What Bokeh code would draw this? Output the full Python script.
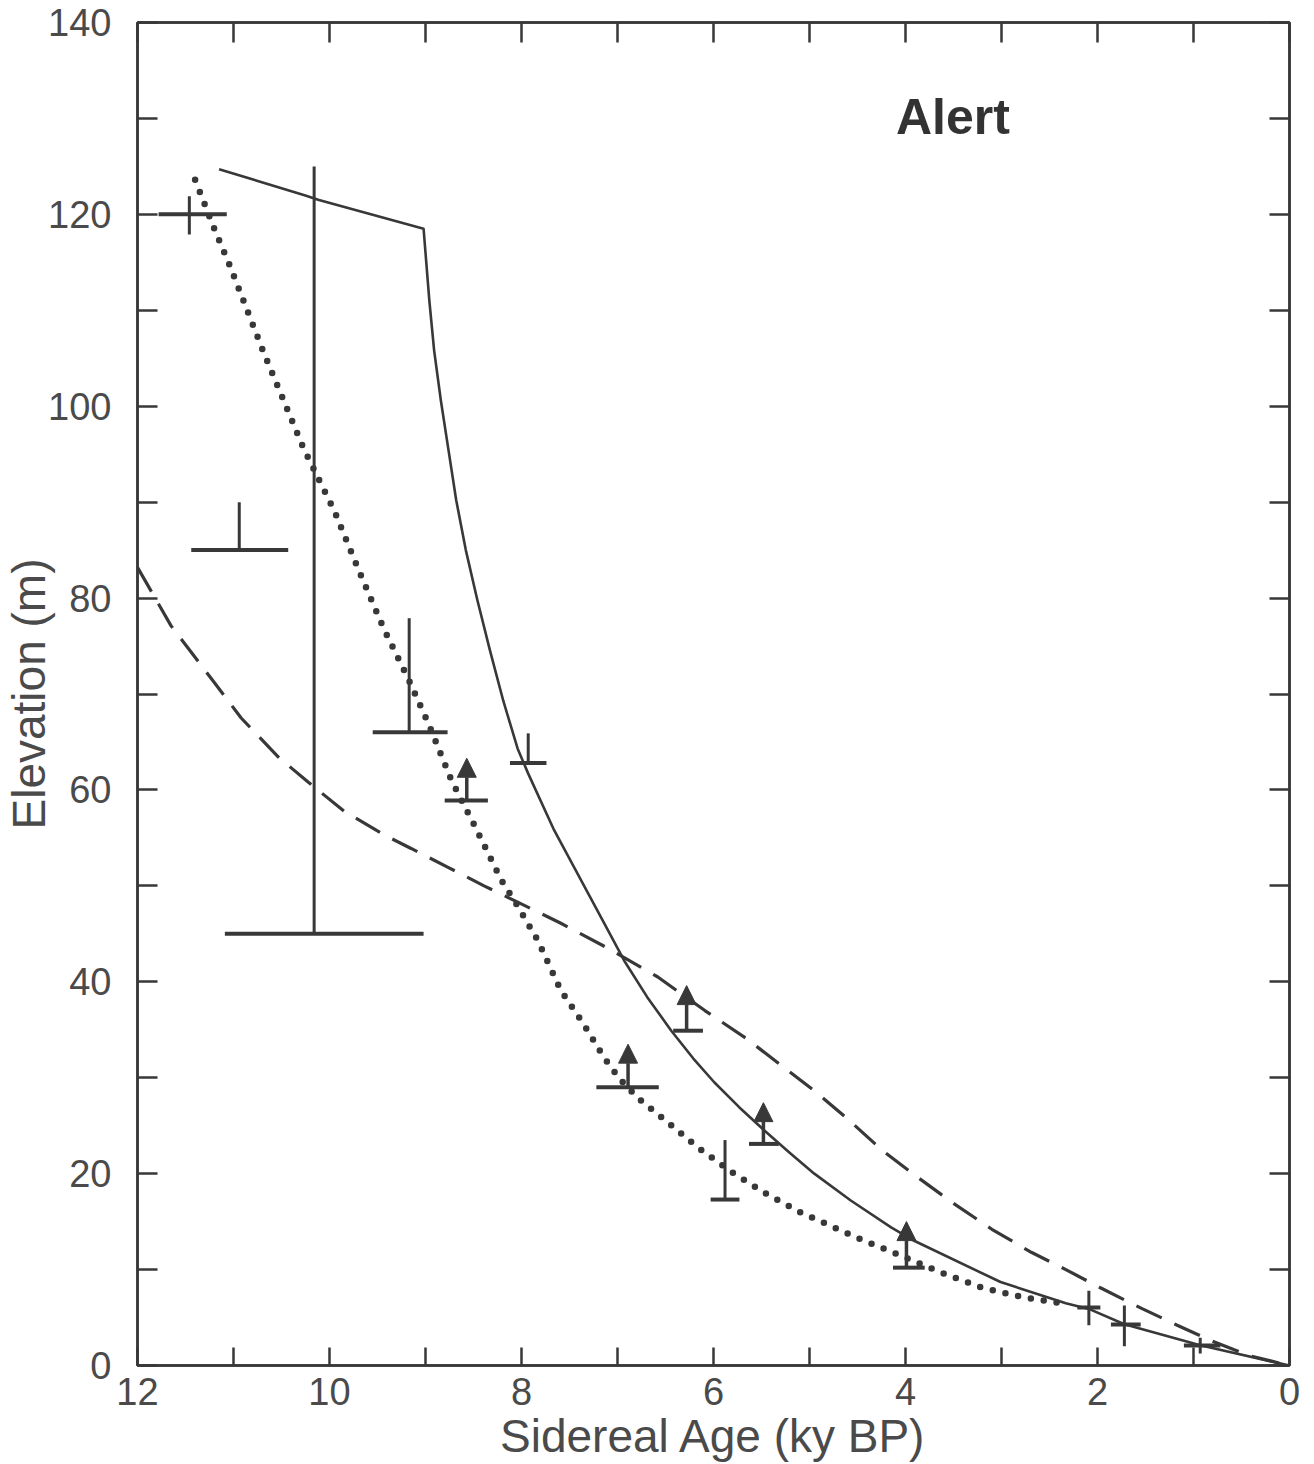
from bokeh.plotting import figure
from bokeh.models import Range1d, FixedTicker, LinearAxis, Label, Arrow, NormalHead, ColumnDataSource
from bokeh.embed import file_html
from bokeh.resources import INLINE

# ---------------- data ----------------
solid_age = [11.15, 10.26, 10.11, 9.02, 8.96, 8.91, 8.84, 8.76, 8.68, 8.58, 8.46, 8.33, 8.19,
             8.04, 7.93, 7.66, 7.17, 6.93, 6.69, 6.44, 6.21, 5.99, 5.73, 5.47, 5.21, 4.95,
             4.57, 4.15, 3.91, 3.01, 2.33, 2.09, 1.72, 0.93, 0.0]
solid_elev = [124.7, 122.0, 121.5, 118.5, 111.0, 105.8, 100.6, 95.4, 90.2, 85.0, 79.8, 74.6, 69.3,
              64.3, 61.7, 55.8, 46.7, 42.2, 38.4, 34.9, 32.0, 29.5, 26.9, 24.5, 22.2, 20.0,
              17.2, 14.4, 13.0, 8.7, 6.5, 5.9, 4.3, 2.1, 0.0]

dotted_age = [11.40, 11.20, 11.04, 10.69, 10.27, 9.95, 9.70, 9.43, 9.18, 8.96, 8.73, 8.49, 8.21,
              8.04, 7.83, 7.59, 7.36, 7.14, 6.98, 6.79, 6.47, 6.16, 5.80, 5.45, 5.10, 4.50,
              4.06, 3.63, 3.20, 2.77, 2.38]
dotted_elev = [123.6, 118.5, 114.7, 105.7, 95.6, 89.1, 83.0, 76.7, 71.6, 66.7, 61.0, 56.3, 50.6,
               47.9, 44.3, 39.1, 35.7, 32.1, 29.9, 27.9, 25.3, 22.7, 20.1, 17.9, 16.0, 13.3,
               11.5, 9.7, 8.1, 7.1, 6.5]

dashed_age = [12.0, 11.65, 11.20, 10.92, 10.53, 10.22, 9.85, 9.43, 9.15, 8.76, 8.39, 8.04,
              7.59, 7.10, 6.58, 6.09, 5.66, 5.27, 4.92, 4.58, 4.24, 3.87, 3.50, 3.10, 2.69,
              2.33, 1.97, 1.53, 1.17, 0.82, 0.41, 0.0]
dashed_elev = [83.2, 77.1, 71.2, 67.5, 63.4, 60.8, 57.8, 55.3, 53.9, 51.9, 50.0, 48.3,
               46.1, 43.5, 40.5, 37.0, 34.1, 31.1, 28.4, 25.5, 22.4, 19.6, 16.9, 14.2, 11.8,
               10.0, 8.1, 5.9, 4.2, 2.6, 1.0, 0.0]

# error-bar style samples: horizontal bar (age range at an elevation) + vertical stem
bar_left = [11.78, 11.44, 11.09, 9.55, 8.12, 6.03, 2.21, 1.86, 1.10]
bar_right = [11.07, 10.43, 9.02, 8.77, 7.74, 5.73, 1.97, 1.55, 0.72]
bar_elev = [120.0, 85.0, 45.0, 66.0, 62.8, 17.3, 6.05, 4.27, 2.08]
stem_age = [11.46, 10.94, 10.16, 9.17, 7.93, 5.88, 2.09, 1.72, 0.93]
stem_low = [117.9, 85.0, 45.0, 66.0, 62.8, 17.3, 4.2, 2.0, 1.25]
stem_high = [121.9, 90.0, 125.0, 77.9, 65.9, 23.5, 7.8, 6.25, 2.9]

# minimum-elevation samples (bar + upward arrow)
min_left = [8.80, 6.42, 7.22, 5.63, 4.13]
min_right = [8.35, 6.11, 6.57, 5.32, 3.80]
min_age = [8.57, 6.28, 6.89, 5.48, 3.99]
min_elev = [58.9, 34.9, 29.0, 23.1, 10.2]
min_tip = [63.3, 39.6, 33.5, 27.4, 15.0]

x_ticks = [0, 2, 4, 6, 8, 10, 12]
x_minor = [1, 3, 5, 7, 9, 11]
y_ticks = [0, 20, 40, 60, 80, 100, 120, 140]
y_minor = [10, 30, 50, 70, 90, 110, 130]

# ---------------- figure ----------------
INK = "#383838"
TXT = "#4a4a4a"
FONT = "Liberation Sans"

p = figure(width=1314, height=1464, x_range=Range1d(12, 0), y_range=Range1d(0, 140),
           output_backend="svg", toolbar_location=None,
           min_border_left=136, min_border_right=25, min_border_top=22, min_border_bottom=99,
           x_axis_label="Sidereal Age (ky BP)", y_axis_label="Elevation (m)")
p.background_fill_color = "white"
p.border_fill_color = "white"
p.xgrid.visible = False
p.ygrid.visible = False
p.outline_line_color = INK
p.outline_line_width = 2.5


def style_axis(ax, ticks, minor, tick_len):
    ax.ticker = FixedTicker(ticks=ticks, minor_ticks=minor)
    ax.axis_line_color = INK
    ax.axis_line_width = 2.5
    ax.major_tick_line_color = INK
    ax.major_tick_line_width = 2.5
    ax.minor_tick_line_color = INK
    ax.minor_tick_line_width = 2.5
    ax.major_tick_in = tick_len
    ax.major_tick_out = 0
    ax.minor_tick_in = tick_len
    ax.minor_tick_out = 0
    ax.major_label_text_font = FONT
    ax.major_label_text_font_size = "38px"
    ax.major_label_text_color = TXT
    ax.axis_label_text_font = FONT
    ax.axis_label_text_font_size = "46px"
    ax.axis_label_text_font_style = "normal"
    ax.axis_label_text_color = TXT


xa = p.xaxis[0]
style_axis(xa, x_ticks, x_minor, 18)
xa.major_label_standoff = 12
xa.axis_label_standoff = 2

ya = p.yaxis[0]
style_axis(ya, y_ticks, y_minor, 20)
ya.major_label_standoff = 26
ya.axis_label_standoff = -10

top = LinearAxis()
style_axis(top, list(range(0, 13)), [], 20)
top.major_label_text_font_size = "0px"
top.major_label_text_color = None
top.major_label_standoff = 0
p.add_layout(top, "above")

right = LinearAxis()
style_axis(right, list(range(0, 141, 10)), [], 20)
right.major_label_text_font_size = "0px"
right.major_label_text_color = None
right.major_label_standoff = 0
p.add_layout(right, "right")

# ---------------- curves ----------------
p.line(dashed_age, dashed_elev, line_color=INK, line_width=3.2, line_dash="28 14")
p.line(solid_age, solid_elev, line_color=INK, line_width=2.6, line_join="round")
p.line(dotted_age, dotted_elev, line_color=INK, line_width=6.5, line_dash="0 13", line_cap="round")

# ---------------- samples ----------------
bars = ColumnDataSource(dict(x0=bar_left, x1=bar_right, y=bar_elev))
p.segment(x0="x0", y0="y", x1="x1", y1="y", source=bars, line_color=INK, line_width=4)
stems = ColumnDataSource(dict(x=stem_age, y0=stem_low, y1=stem_high))
p.segment(x0="x", y0="y0", x1="x", y1="y1", source=stems, line_color=INK, line_width=3)

mins = ColumnDataSource(dict(x0=min_left, x1=min_right, x=min_age, y=min_elev, tip=min_tip))
p.segment(x0="x0", y0="y", x1="x1", y1="y", source=mins, line_color=INK, line_width=4)
p.add_layout(Arrow(end=NormalHead(size=19, fill_color=INK, line_color=INK, line_width=1),
                   x_start="x", y_start="y", x_end="x", y_end="tip", source=mins,
                   line_color=INK, line_width=3.5))

p.add_layout(Label(x=4.10, y=130.1, text="Alert", text_font=FONT, text_font_size="50px",
                   text_font_style="bold", text_color="#333333", text_align="left",
                   text_baseline="alphabetic"))

open("out.html", "w").write(file_html(p, INLINE))
